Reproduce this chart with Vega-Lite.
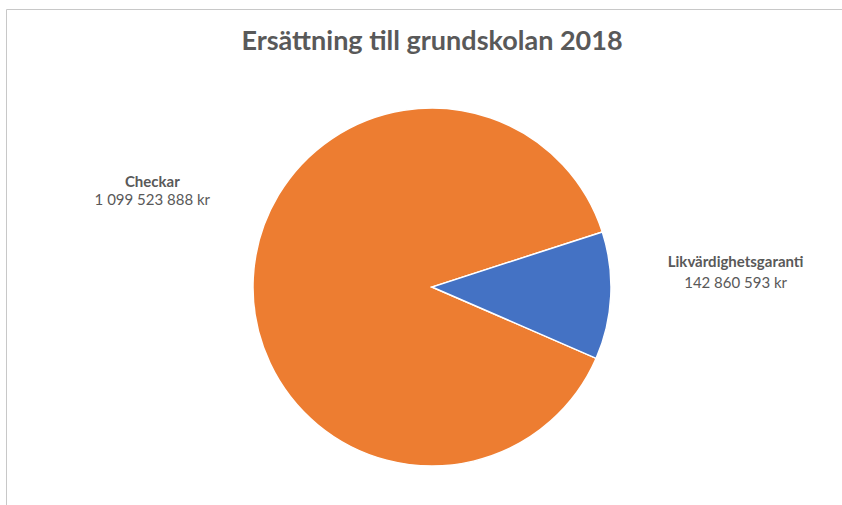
{
  "$schema": "https://vega.github.io/schema/vega-lite/v6.json",
  "width": 852,
  "height": 556,
  "autosize": {"type": "none"},
  "padding": {"left": 6, "top": 9, "right": -16, "bottom": -60},
  "background": "white",
  "view": {"stroke": "#c8c8c8", "strokeWidth": 1, "fill": "white"},
  "title": {
    "text": "Ersättning till grundskolan 2018",
    "font": "Lato",
    "fontSize": 27,
    "fontWeight": "bold",
    "color": "#595959",
    "offset": -47,
    "anchor": "middle"
  },
  "data": {
    "values": [
      {"kategori": "Checkar", "belopp": 1099523888, "etikett": "1 099 523 888 kr"},
      {"kategori": "Likvärdighetsgaranti", "belopp": 142860593, "etikett": "142 860 593 kr"}
    ]
  },
  "encoding": {
    "theta": {"field": "belopp", "type": "quantitative", "stack": true, "scale": {"range": [1.981, 8.264]}},
    "order": {"field": "kategori", "sort": "ascending"}
  },
  "layer": [
    {
      "mark": {"type": "arc", "outerRadius": 179, "stroke": "white", "strokeWidth": 1.5},
      "encoding": {
        "color": {
          "field": "kategori",
          "type": "nominal",
          "scale": {"domain": ["Checkar", "Likvärdighetsgaranti"], "range": ["#ED7D31", "#4472C4"]},
          "legend": null
        }
      }
    },
    {
      "mark": {"type": "text", "radius": 280, "dy": -91, "font": "Lato", "fontSize": 15, "fontWeight": "bold", "color": "#595959", "align": "center", "baseline": "middle"},
      "encoding": {
        "detail": {"field": "kategori"},
        "text": {"condition": {"test": "datum.kategori === 'Checkar'", "field": "kategori"}, "value": ""}
      }
    },
    {
      "mark": {"type": "text", "radius": 280, "dy": -73, "font": "Lato", "fontSize": 15, "color": "#595959", "align": "center", "baseline": "middle"},
      "encoding": {
        "detail": {"field": "kategori"},
        "text": {"condition": {"test": "datum.kategori === 'Checkar'", "field": "etikett"}, "value": ""}
      }
    },
    {
      "mark": {"type": "text", "radius": 304, "dy": -40, "font": "Lato", "fontSize": 15, "fontWeight": "bold", "color": "#595959", "align": "center", "baseline": "middle"},
      "encoding": {
        "detail": {"field": "kategori"},
        "text": {"condition": {"test": "datum.kategori === 'Likvärdighetsgaranti'", "field": "kategori"}, "value": ""}
      }
    },
    {
      "mark": {"type": "text", "radius": 304, "dy": -19, "font": "Lato", "fontSize": 15, "color": "#595959", "align": "center", "baseline": "middle"},
      "encoding": {
        "detail": {"field": "kategori"},
        "text": {"condition": {"test": "datum.kategori === 'Likvärdighetsgaranti'", "field": "etikett"}, "value": ""}
      }
    }
  ]
}
